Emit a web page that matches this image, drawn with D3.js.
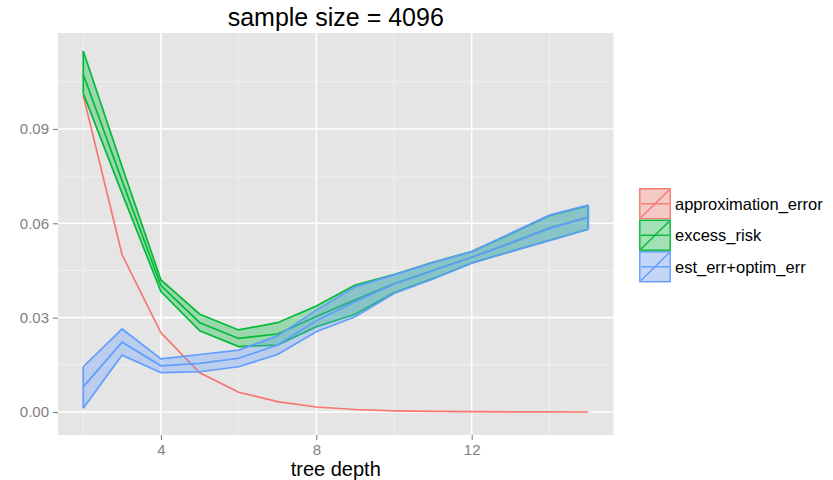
<!DOCTYPE html>
<html>
<head>
<meta charset="utf-8">
<script src="https://cdn.jsdelivr.net/npm/d3@7"></script>
<style>
  body { margin: 0; background: #fff; }
  text { font-family: "Liberation Sans", Arial, sans-serif; }
</style>
</head>
<body>
<div id="chart"></div>
<script>
// data
const depth = [2, 3, 4, 5, 6, 7, 8, 9, 10, 11, 12, 13, 14, 15];
const approxErr = [0.1006, 0.0500, 0.0252, 0.0125, 0.0063, 0.0033, 0.0016, 0.0008, 0.0004, 0.0002, 0.0001, 0.00005, 0.00003, 0.00002];
const excessLo  = [0.1013, 0.0695, 0.0383, 0.0258, 0.0208, 0.0213, 0.0271, 0.0311, 0.0379, 0.0424, 0.0474, 0.0510, 0.0546, 0.0581];
const excessMid = [0.1074, 0.0735, 0.0402, 0.0284, 0.0234, 0.0248, 0.0304, 0.0357, 0.0408, 0.0450, 0.0492, 0.0537, 0.0585, 0.0619];
const excessHi  = [0.1148, 0.0780, 0.0420, 0.0311, 0.0261, 0.0284, 0.0337, 0.0404, 0.0437, 0.0476, 0.0510, 0.0566, 0.0624, 0.0656];
const estLo  = [0.0012, 0.0181, 0.0125, 0.0128, 0.0144, 0.0183, 0.0255, 0.0303, 0.0377, 0.0423, 0.0473, 0.0510, 0.0545, 0.0581];
const estMid = [0.0080, 0.0222, 0.0147, 0.0155, 0.0171, 0.0213, 0.0290, 0.0351, 0.0407, 0.0449, 0.0492, 0.0537, 0.0584, 0.0619];
const estHi  = [0.0144, 0.0264, 0.0169, 0.0183, 0.0197, 0.0242, 0.0324, 0.0398, 0.0436, 0.0475, 0.0510, 0.0568, 0.0626, 0.0658];
const seriesNames = ["approximation_error", "excess_risk", "est_err+optim_err"];
const seriesColors = ["#F8766D", "#00BA38", "#619CFF"];
const xTicks = [4, 8, 12];
const xMinor = [2, 6, 10, 14];
const yTicks = [0, 0.03, 0.06, 0.09];
const yMinor = [0.015, 0.045, 0.075, 0.105];

const W = 833, H = 480;
const panel = {l: 58, r: 613.5, t: 33, b: 435};

const svg = d3.select("#chart").append("svg")
    .attr("width", W).attr("height", H);

const x = d3.scaleLinear().domain([1.35, 15.65]).range([panel.l, panel.r]);
const y = d3.scaleLinear().domain([-0.0073, 0.1205]).range([panel.b, panel.t]);

//panel background
svg.append("rect")
    .attr("x", panel.l).attr("y", panel.t)
    .attr("width", panel.r - panel.l).attr("height", panel.b - panel.t)
    .attr("fill", "#E5E5E5");

let grid = svg.append("g");
xMinor.forEach(v => grid.append("line")
    .attr("x1", x(v)).attr("x2", x(v)).attr("y1", panel.t).attr("y2", panel.b)
    .attr("stroke", "#F2F2F2").attr("stroke-width", 0.8));
yMinor.forEach(v => grid.append("line")
    .attr("x1", panel.l).attr("x2", panel.r).attr("y1", y(v)).attr("y2", y(v))
    .attr("stroke", "#F2F2F2").attr("stroke-width", 0.8));
xTicks.forEach(v => grid.append("line")
    .attr("x1", x(v)).attr("x2", x(v)).attr("y1", panel.t).attr("y2", panel.b)
    .attr("stroke", "#fff").attr("stroke-width", 1.6));
yTicks.forEach(v => grid.append("line")
    .attr("x1", panel.l).attr("x2", panel.r).attr("y1", y(v)).attr("y2", y(v))
    .attr("stroke", "#fff").attr("stroke-width", 1.6));

//axes
let axisX = d3.axisBottom(x).tickValues(xTicks).tickSize(5).tickPadding(4).tickFormat(d3.format("d"));
let axisY = d3.axisLeft(y).tickValues(yTicks).tickSize(5).tickPadding(4).tickFormat(d3.format(".2f"));

let gx = svg.append("g").attr("transform", `translate(0,${panel.b})`).call(axisX);
let gy = svg.append("g").attr("transform", `translate(${panel.l},0)`).call(axisY);
[gx, gy].forEach(g => {
    g.select(".domain").remove();
    g.selectAll(".tick line").attr("stroke", "#7F7F7F").attr("stroke-width", 1.1);
    g.selectAll(".tick text").attr("fill", "#7F7F7F")
        .style("font-size", "15px").style("font-family", "Liberation Sans, Arial, sans-serif");
});

//ribbons + lines
const line = d3.line().x((d, i) => x(depth[i])).y(d => y(d));
const area = d3.area()
    .x(d => x(d.x)).y0(d => y(d.lo)).y1(d => y(d.hi));

let plot = svg.append("g");

plot.append("path")
    .attr("d", line(approxErr))
    .attr("fill", "none").attr("stroke", seriesColors[0]).attr("stroke-width", 1.7);

function ribbon(lo, mid, hi, col) {
    let pts = depth.map((d, i) => ({x: d, lo: lo[i], hi: hi[i]}));
    plot.append("path").attr("d", area(pts))
        .attr("fill", col).attr("fill-opacity", 0.32).attr("stroke", "none");
    [lo, hi].forEach(s => plot.append("path").attr("d", line(s))
        .attr("fill", "none").attr("stroke", col).attr("stroke-width", 1.7));
    // vertical ends of ribbon outline
    [0, depth.length - 1].forEach(i => plot.append("line")
        .attr("x1", x(depth[i])).attr("x2", x(depth[i]))
        .attr("y1", y(lo[i])).attr("y2", y(hi[i]))
        .attr("stroke", col).attr("stroke-width", 1.7));
    plot.append("path").attr("d", line(mid))
        .attr("fill", "none").attr("stroke", col).attr("stroke-width", 1.7);
}
ribbon(excessLo, excessMid, excessHi, seriesColors[1]);
ribbon(estLo, estMid, estHi, seriesColors[2]);

//title and axis title
svg.append("text")
    .attr("x", (panel.l + panel.r) / 2).attr("y", 26)
    .attr("text-anchor", "middle")
    .style("font-size", "25px")
    .text("sample size = 4096");

svg.append("text")
    .attr("x", (panel.l + panel.r) / 2).attr("y", 476)
    .attr("text-anchor", "middle")
    .style("font-size", "20px")
    .text("tree depth");

//legend
const keyW = 32, keyH = 31.5;
let legend = svg.append("g").attr("transform", "translate(639,188)");
seriesNames.forEach((name, i) => {
    let g = legend.append("g").attr("transform", `translate(0,${i * keyH})`);
    g.append("rect").attr("width", keyW).attr("height", keyH).attr("fill", "#F2F2F2");
    g.append("rect").attr("x", 0.8).attr("y", 0.8)
        .attr("width", keyW - 1.6).attr("height", keyH - 1.6)
        .attr("fill", seriesColors[i]).attr("fill-opacity", 0.32)
        .attr("stroke", seriesColors[i]).attr("stroke-width", 1.4);
    g.append("line").attr("x1", 2).attr("x2", keyW - 2).attr("y1", keyH - 2).attr("y2", 2)
        .attr("stroke", seriesColors[i]).attr("stroke-width", 1.4);
    g.append("line").attr("x1", 2).attr("x2", keyW - 2).attr("y1", keyH / 2).attr("y2", keyH / 2)
        .attr("stroke", seriesColors[i]).attr("stroke-width", 1.4);
    g.append("text").attr("x", keyW + 4).attr("y", keyH / 2 + 6)
        .style("font-size", "16.5px").text(name);
});
</script>
</body>
</html>
